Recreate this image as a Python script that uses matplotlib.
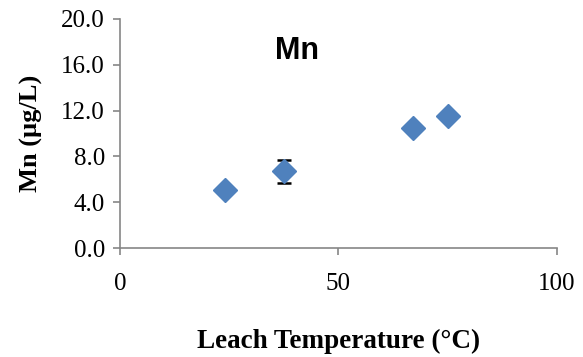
import matplotlib
matplotlib.use("Agg")
import matplotlib.pyplot as plt

# leach temperature (C) vs Mn concentration (ug/L)
temps = [24, 37.5, 67, 75]
mn = [5.1, 6.7, 10.5, 11.5]
mn_err = [0.15, 1.0, 0.2, 0.1]
xticks = [0, 50, 100]
yticks = [0, 4, 8, 12, 16, 20]

plt.rcParams['font.family'] = ['Liberation Serif', 'DejaVu Serif']

fig = plt.figure(figsize=(5.83, 3.57), dpi=100)
ax = fig.add_axes([0.206, 0.305, 0.749, 0.642])

ax.errorbar(temps, mn, yerr=mn_err, fmt='D', color='#4F81BD', ms=12,
            ecolor='black', elinewidth=1.3, capsize=5, capthick=1.8, zorder=3)

ax.set_xlim(0, 100)
ax.set_ylim(0, 20)
ax.set_xticks(xticks)
ax.set_yticks(yticks)
ax.set_yticklabels([f'{v:.1f}' for v in yticks])
ax.tick_params(labelsize=18, color='#868686', length=5, width=1.2)
ax.tick_params(axis='x', pad=13)
ax.tick_params(axis='y', pad=6)

for s in ['top', 'right']:
    ax.spines[s].set_visible(False)
for s in ['left', 'bottom']:
    ax.spines[s].set_color('#868686')
    ax.spines[s].set_linewidth(1.2)

ax.set_xlabel('Leach Temperature (°C)', fontsize=19.5, fontweight='bold', labelpad=24)
ax.set_ylabel('Mn (µg/L)', fontsize=19, fontweight='bold', labelpad=13)

ax.text(0.405, 0.825, 'Mn', transform=ax.transAxes, fontsize=22, fontweight='bold',
        ha='center', va='baseline', family=['Liberation Sans', 'DejaVu Sans'])

fig.savefig('out.png', dpi=100)
